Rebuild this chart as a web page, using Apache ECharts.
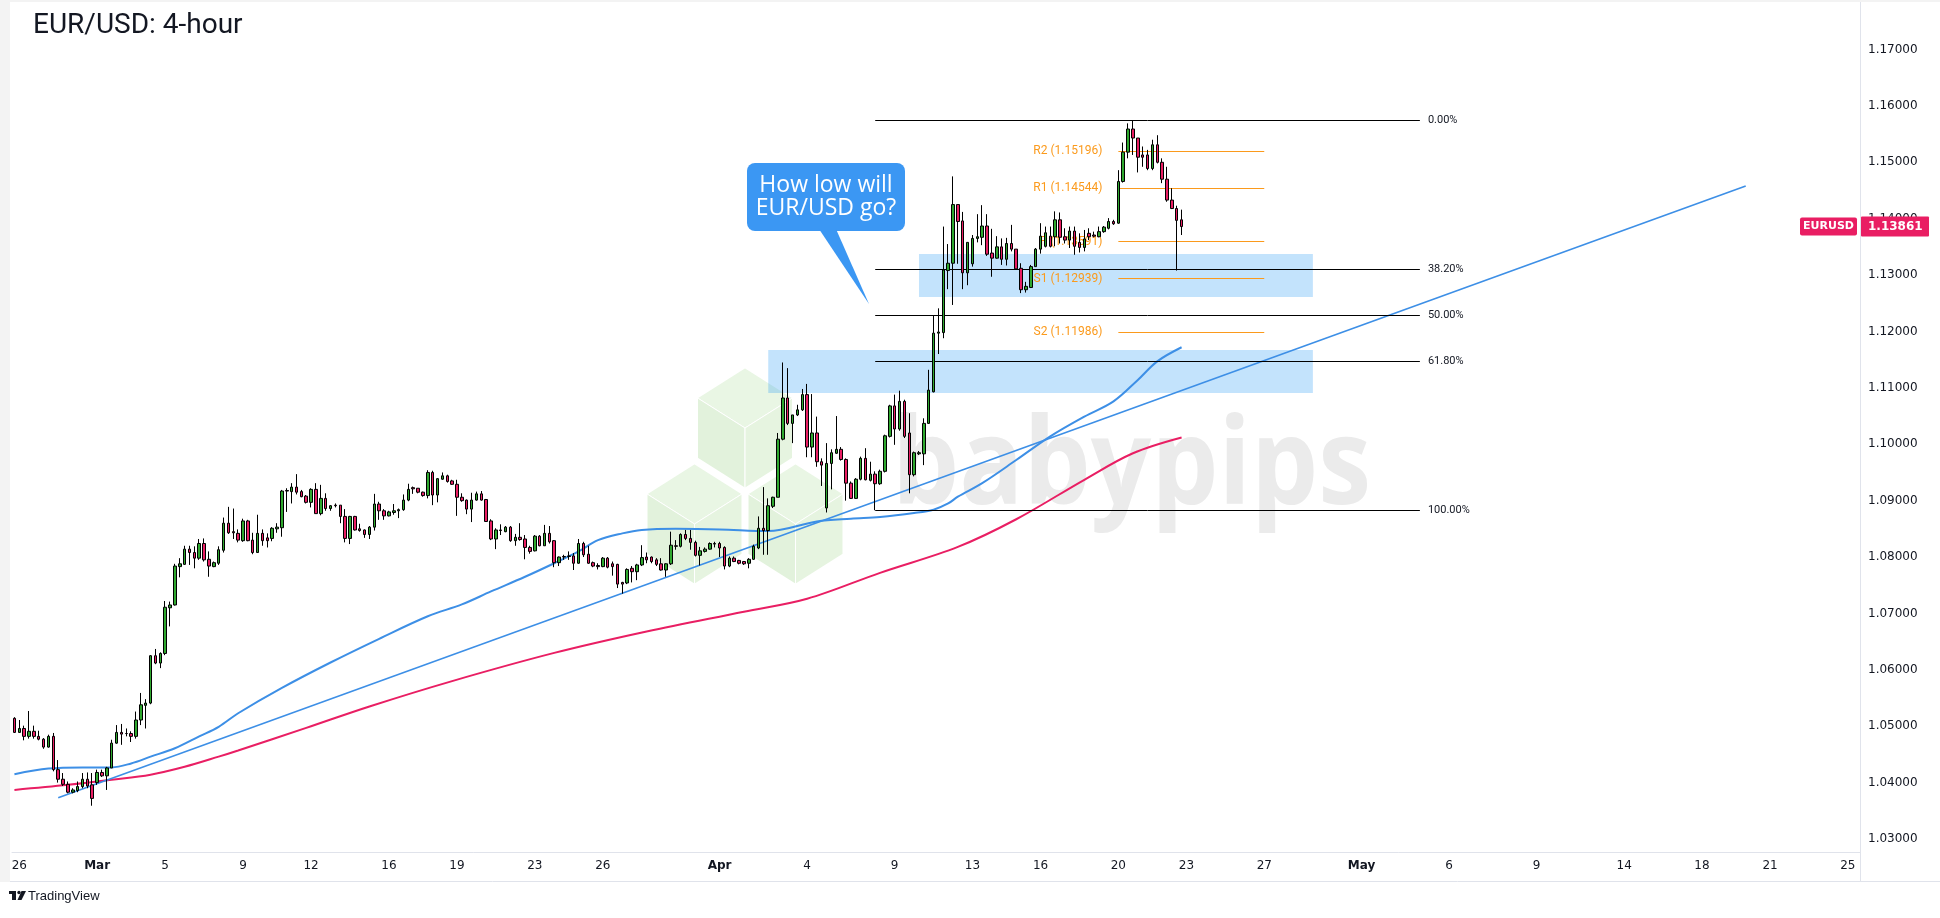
<!DOCTYPE html>
<html><head><meta charset="utf-8">
<script src="https://cdn.jsdelivr.net/npm/echarts@6/dist/echarts.min.js"></script>
<style>html,body{margin:0;padding:0;background:#fff;}#c{width:1940px;height:918px;}</style>
</head><body><div id="c"></div>
<script>
// ---------- DATA ----------
const open = [1.0514,1.0489,1.0496,1.0482,1.0491,1.0482,1.0477,1.0463,1.0482,1.0423,1.0406,1.0397,1.0383,1.0386,1.0393,1.0406,1.0396,1.0400,1.0418,1.0412,
1.0426,1.0470,1.0489,1.0487,1.0487,1.0482,1.0511,1.0537,1.0541,1.0625,1.0612,1.0629,1.0710,1.0715,1.0783,1.0787,1.0814,1.0808,1.0798,1.0824,
1.0796,1.0783,1.0789,1.0812,1.0860,1.0845,1.0842,1.0829,1.0864,1.0830,1.0808,1.0842,1.0834,1.0833,1.0850,1.0852,1.0918,1.0916,1.0924,1.0916,
1.0908,1.0897,1.0920,1.0877,1.0904,1.0886,1.0892,1.0892,1.0872,1.0833,1.0872,1.0850,1.0848,1.0840,1.0853,1.0894,1.0882,1.0873,1.0879,1.0882,
1.0884,1.0901,1.0923,1.0922,1.0915,1.0909,1.0950,1.0910,1.0938,1.0944,1.0935,1.0929,1.0906,1.0901,1.0885,1.0901,1.0912,1.0902,1.0864,1.0832,
1.0848,1.0845,1.0853,1.0829,1.0835,1.0832,1.0817,1.0811,1.0837,1.0820,1.0842,1.0829,1.0790,1.0801,1.0801,1.0802,1.0789,1.0824,1.0805,1.0790,
1.0785,1.0783,1.0798,1.0788,1.0787,1.0755,1.0754,1.0780,1.0774,1.0786,1.0800,1.0800,1.0795,1.0788,1.0777,1.0788,1.0820,1.0819,1.0840,1.0833,
1.0826,1.0803,1.0810,1.0814,1.0824,1.0824,1.0817,1.0784,1.0798,1.0794,1.0792,1.0789,1.0796,1.0816,1.0851,1.0847,1.0890,1.0906,1.1009,1.1082,
1.1037,1.1052,1.1061,1.1088,1.0995,1.1020,1.0969,1.0887,1.0966,1.0984,1.0991,1.0973,1.0931,1.0904,1.0938,1.0975,1.0936,1.0947,1.0930,1.0952,
1.1014,1.1068,1.1027,1.1076,1.1020,1.0946,1.0983,1.0983,1.1037,1.1093,1.1197,1.1198,1.1308,1.1321,1.1425,1.1396,1.1304,1.1320,1.1365,1.1367,
1.1387,1.1339,1.1330,1.1350,1.1328,1.1356,1.1346,1.1312,1.1274,1.1278,1.1315,1.1346,1.1351,1.1369,1.1368,1.1398,1.1368,1.1362,1.1378,1.1358,
1.1349,1.1374,1.1371,1.1368,1.1377,1.1383,1.1395,1.1392,1.1466,1.1518,1.1559,1.1543,1.1513,1.1513,1.1489,1.1531,1.1500,1.1470,1.1433,1.1418,
1.1398];
const high = [1.0516,1.0511,1.0501,1.0527,1.0501,1.0492,1.0479,1.0485,1.0488,1.0440,1.0417,1.0402,1.0390,1.0402,1.0417,1.0418,1.0417,1.0423,1.0423,1.0428,
1.0476,1.0502,1.0504,1.0496,1.0491,1.0526,1.0559,1.0548,1.0626,1.0637,1.0631,1.0722,1.0721,1.0788,1.0798,1.0820,1.0820,1.0819,1.0832,1.0833,
1.0810,1.0792,1.0819,1.0870,1.0889,1.0886,1.0849,1.0868,1.0866,1.0843,1.0875,1.0849,1.0842,1.0853,1.0860,1.0919,1.0922,1.0931,1.0947,1.0919,
1.0910,1.0922,1.0931,1.0928,1.0913,1.0892,1.0895,1.0892,1.0885,1.0873,1.0873,1.0859,1.0849,1.0855,1.0912,1.0898,1.0885,1.0882,1.0894,1.0886,
1.0911,1.0930,1.0925,1.0922,1.0916,1.0954,1.0953,1.0940,1.0950,1.0946,1.0937,1.0937,1.0913,1.0902,1.0914,1.0916,1.0917,1.0903,1.0867,1.0851,
1.0858,1.0855,1.0855,1.0841,1.0860,1.0839,1.0820,1.0839,1.0839,1.0857,1.0855,1.0830,1.0801,1.0804,1.0810,1.0807,1.0832,1.0827,1.0820,1.0792,
1.0789,1.0800,1.0800,1.0792,1.0788,1.0756,1.0780,1.0784,1.0788,1.0821,1.0808,1.0801,1.0798,1.0798,1.0789,1.0845,1.0830,1.0842,1.0848,1.0848,
1.0829,1.0818,1.0817,1.0826,1.0827,1.0827,1.0819,1.0801,1.0801,1.0795,1.0793,1.0798,1.0822,1.0872,1.0924,1.0904,1.0907,1.1020,1.1145,1.1135,
1.1052,1.1070,1.1098,1.1107,1.1089,1.1049,1.0975,1.1002,1.0991,1.1050,1.0995,1.0975,1.0934,1.0940,1.0978,1.0993,1.0969,1.0952,1.0955,1.1017,
1.1070,1.1088,1.1095,1.1079,1.1055,1.0987,1.0988,1.1046,1.1132,1.1229,1.1241,1.1386,1.1355,1.1475,1.1425,1.1412,1.1358,1.1371,1.1408,1.1424,
1.1408,1.1382,1.1369,1.1365,1.1366,1.1389,1.1346,1.1321,1.1288,1.1318,1.1348,1.1392,1.1386,1.1386,1.1413,1.1411,1.1383,1.1386,1.1386,1.1374,
1.1380,1.1383,1.1377,1.1386,1.1387,1.1401,1.1398,1.1486,1.1535,1.1569,1.1574,1.1543,1.1528,1.1522,1.1540,1.1548,1.1507,1.1492,1.1454,1.1423,
1.1416];
const low = [1.0488,1.0488,1.0475,1.0478,1.0478,1.0475,1.0460,1.0462,1.0420,1.0400,1.0394,1.0381,1.0381,1.0383,1.0390,1.0390,1.0359,1.0396,1.0410,1.0387,
1.0426,1.0469,1.0467,1.0482,1.0472,1.0478,1.0502,1.0496,1.0539,1.0610,1.0603,1.0626,1.0677,1.0714,1.0764,1.0786,1.0786,1.0780,1.0795,1.0792,
1.0765,1.0782,1.0786,1.0808,1.0841,1.0832,1.0826,1.0827,1.0828,1.0805,1.0808,1.0820,1.0817,1.0828,1.0843,1.0836,1.0880,1.0895,1.0911,1.0906,
1.0895,1.0888,1.0877,1.0874,1.0882,1.0882,1.0888,1.0860,1.0826,1.0823,1.0847,1.0845,1.0834,1.0832,1.0847,1.0866,1.0866,1.0872,1.0875,1.0869,
1.0882,1.0899,1.0912,1.0913,1.0907,1.0904,1.0892,1.0897,1.0937,1.0932,1.0928,1.0873,1.0898,1.0876,1.0862,1.0900,1.0900,1.0863,1.0830,1.0814,
1.0839,1.0844,1.0827,1.0820,1.0829,1.0796,1.0806,1.0810,1.0819,1.0820,1.0824,1.0782,1.0784,1.0795,1.0795,1.0777,1.0788,1.0800,1.0788,1.0782,
1.0778,1.0782,1.0780,1.0767,1.0745,1.0735,1.0752,1.0755,1.0759,1.0784,1.0789,1.0789,1.0784,1.0776,1.0765,1.0786,1.0813,1.0817,1.0830,1.0813,
1.0801,1.0785,1.0808,1.0813,1.0817,1.0800,1.0778,1.0782,1.0791,1.0787,1.0786,1.0780,1.0795,1.0814,1.0804,1.0804,1.0887,1.0906,1.1007,1.1034,
1.1002,1.1050,1.1059,1.0977,1.0977,1.0960,1.0926,1.0879,1.0920,1.0983,1.0971,1.0900,1.0903,1.0903,1.0936,1.0936,1.0934,1.0883,1.0928,1.0950,
1.1012,1.0999,1.1024,1.1011,1.0913,1.0943,1.0981,1.0963,1.1036,1.1092,1.1160,1.1188,1.1275,1.1247,1.1320,1.1275,1.1282,1.1315,1.1358,1.1353,
1.1334,1.1297,1.1329,1.1318,1.1317,1.1342,1.1309,1.1268,1.1269,1.1277,1.1315,1.1338,1.1349,1.1349,1.1351,1.1356,1.1356,1.1348,1.1336,1.1340,
1.1342,1.1362,1.1367,1.1367,1.1375,1.1381,1.1389,1.1391,1.1464,1.1507,1.1513,1.1482,1.1492,1.1486,1.1486,1.1498,1.1463,1.1430,1.1417,1.1308,
1.1371];
const close = [1.0489,1.0496,1.0482,1.0491,1.0482,1.0477,1.0463,1.0482,1.0423,1.0406,1.0397,1.0383,1.0387,1.0393,1.0406,1.0394,1.0372,1.0418,1.0412,1.0426,
1.0470,1.0489,1.0486,1.0487,1.0482,1.0511,1.0538,1.0541,1.0625,1.0612,1.0629,1.0711,1.0715,1.0784,1.0788,1.0814,1.0808,1.0798,1.0824,1.0795,
1.0784,1.0790,1.0813,1.0860,1.0843,1.0843,1.0830,1.0864,1.0829,1.0808,1.0842,1.0829,1.0829,1.0851,1.0853,1.0917,1.0917,1.0924,1.0915,1.0907,
1.0897,1.0920,1.0877,1.0904,1.0886,1.0891,1.0891,1.0872,1.0833,1.0872,1.0848,1.0847,1.0840,1.0853,1.0894,1.0882,1.0873,1.0880,1.0882,1.0884,
1.0901,1.0920,1.0921,1.0915,1.0909,1.0950,1.0910,1.0939,1.0944,1.0934,1.0929,1.0906,1.0900,1.0885,1.0901,1.0912,1.0901,1.0863,1.0832,1.0848,
1.0847,1.0853,1.0829,1.0835,1.0831,1.0817,1.0810,1.0837,1.0820,1.0842,1.0827,1.0790,1.0800,1.0800,1.0802,1.0789,1.0824,1.0804,1.0789,1.0784,
1.0783,1.0798,1.0782,1.0783,1.0752,1.0752,1.0778,1.0774,1.0786,1.0799,1.0795,1.0792,1.0787,1.0777,1.0788,1.0821,1.0819,1.0840,1.0833,1.0826,
1.0803,1.0811,1.0814,1.0824,1.0823,1.0816,1.0784,1.0798,1.0792,1.0789,1.0788,1.0796,1.0819,1.0851,1.0847,1.0891,1.0906,1.1009,1.1082,1.1037,
1.1052,1.1061,1.1088,1.0995,1.1020,1.0969,1.0963,1.0966,1.0985,1.0991,1.0973,1.0931,1.0904,1.0938,1.0975,1.0937,1.0947,1.0930,1.0952,1.1015,
1.1068,1.1027,1.1076,1.1014,1.0946,1.0985,1.0985,1.1037,1.1096,1.1197,1.1199,1.1309,1.1321,1.1425,1.1395,1.1304,1.1358,1.1365,1.1368,1.1387,
1.1337,1.1330,1.1350,1.1328,1.1356,1.1346,1.1311,1.1274,1.1280,1.1315,1.1346,1.1369,1.1375,1.1351,1.1398,1.1367,1.1362,1.1378,1.1351,1.1349,
1.1364,1.1368,1.1369,1.1377,1.1385,1.1395,1.1391,1.1466,1.1518,1.1559,1.1543,1.1509,1.1509,1.1489,1.1531,1.1500,1.1470,1.1433,1.1418,1.1397,
1.1386];

// moving averages (bar index, value)
const blueMaIdx = [0,7,14,20,24,28,33,38,42,46,55,65,75,85,92,98,105,111,116,120,125,129,136,145,155,165,172,178,185,189,192,194,199,206,213,220,226,231,235,240];
const blueMaVal = [1.0415,1.0425,1.0427,1.0427,1.0434,1.0446,1.0461,1.0482,1.0499,1.0523,1.0568,1.0613,1.0655,1.0695,1.0716,1.0739,1.0765,1.0789,1.0810,1.0830,1.0842,1.0848,1.0850,1.0849,1.0846,1.0863,1.0868,1.0871,1.0878,1.0884,1.0895,1.0907,1.0931,1.0972,1.1014,1.1049,1.1076,1.1114,1.1147,1.1172];
const pinkMaIdx = [0,11,20,28,35,42,46,60,73,90,111,130,150,163,178,194,206,220,230,240];
const pinkMaVal = [1.0387,1.0396,1.0405,1.0414,1.0428,1.0446,1.0457,1.0497,1.0535,1.0580,1.0630,1.0668,1.0703,1.0726,1.0772,1.0818,1.0867,1.0937,1.0984,1.1012];
const trendIdx = [9, 356];
const trendVal = [1.0373, 1.1458];

const fibHigh = 1.1575, fibLow = 1.0883;
const fibLevels = [0, 0.382, 0.5, 0.618, 1];
const fibTexts = ['0.00%','38.20%','50.00%','61.80%','100.00%'];
const fibStartIdx = 177, fibEndIdx = 289;

const pivotNames = ['R2','R1','P','S1','S2'];
const pivotVals = [1.15196,1.14544,1.13591,1.12939,1.11986];
const pivotStartIdx = 227, pivotEndIdx = 257;

const boxTop = [1.13374, 1.11672];
const boxBottom = [1.12612, 1.10910];
const boxStartIdx = [186, 155];
const boxEndIdx = [267, 267];

const lastPrice = 1.13861;
const yTicks = [1.03,1.04,1.05,1.06,1.07,1.08,1.09,1.10,1.11,1.12,1.13,1.14,1.15,1.16,1.17];
const tickDays = ['2025-02-26','2025-03-02','2025-03-05','2025-03-09','2025-03-12','2025-03-16','2025-03-19','2025-03-23','2025-03-26','2025-04-01','2025-04-04','2025-04-09','2025-04-13','2025-04-16','2025-04-20','2025-04-23','2025-04-27','2025-05-01','2025-05-06','2025-05-09','2025-05-14','2025-05-18','2025-05-21','2025-05-25'];
const tickTexts = ['26','Mar','5','9','12','16','19','23','26','Apr','4','9','13','16','20','23','27','May','6','9','14','18','21','25'];

// ---------- 4-hour bar calendar (New York session) ----------
const barHours = {0:[17,21],1:[1,5,9,13,17,21],2:[1,5,9,13,17,21],3:[1,5,9,13,17,21],4:[1,5,9,13,17,21],5:[1,5,9,13],6:[]};
const NBARS = 380;
const cats = [], firstOfDay = {};
for (let d = 0; cats.length < NBARS; d++) {
  const t = new Date(Date.UTC(2025,1,25) + d*86400000);
  const ds = t.toISOString().slice(0,10);
  let hrs = barHours[t.getUTCDay()];
  if (d === 0) hrs = [21];
  hrs.forEach((h,k) => { if (cats.length >= NBARS) return; if (k === 0) firstOfDay[cats.length] = ds; cats.push(ds + ' ' + String(h).padStart(2,'0') + ':00'); });
}
const tickMap = {}; tickDays.forEach((d,i) => tickMap[d] = tickTexts[i]);
const months = ['Mar','Apr','May'];

const candles = close.map((c,i) => [open[i], c, low[i], high[i]]);
const blueMa = blueMaIdx.map((x,i) => [x, blueMaVal[i]]);
const pinkMa = pinkMaIdx.map((x,i) => [x, pinkMaVal[i]]);
const trend = trendIdx.map((x,i) => [x, trendVal[i]]);

const AX = '#131722', BORDER = '#e0e3eb';
const UP = '#2fa82f', DOWN = '#e91e63', BLUE = '#3d8fe6', ORANGE = '#fb9a1c';

const chart = echarts.init(document.getElementById('c'), null, {renderer:'canvas'});
const option = {
  animation: false,
  backgroundColor: '#ffffff',
  grid: {left: 12, right: 80, top: 0, bottom: 66},
  xAxis: {
    type: 'category', data: cats, boundaryGap: true,
    axisLine: {show: true, lineStyle: {color: BORDER, width: 1}},
    axisTick: {show: false}, splitLine: {show: false},
    axisLabel: {
      color: AX, fontSize: 12, fontFamily: 'DejaVu Sans', margin: 8,
      interval: (idx) => firstOfDay[idx] !== undefined && tickMap[firstOfDay[idx]] !== undefined,
      formatter: (val) => { const t = tickMap[val.slice(0,10)]; return months.includes(t) ? '{b|' + t + '}' : t; },
      rich: {b: {fontWeight: 'bold', fontSize: 12, fontFamily: 'DejaVu Sans', color: AX}}
    }
  },
  yAxis: {
    type: 'value', position: 'right', min: 1.027695, max: 1.178777, scale: true,
    axisLine: {show: true, lineStyle: {color: BORDER}},
    axisTick: {show: false}, splitLine: {show: false},
    axisLabel: {customValues: yTicks, formatter: v => v.toFixed(5), color: AX, fontSize: 12, fontFamily: 'DejaVu Sans', margin: 8}
  },
  series: [
    { name: 'pivots', type: 'line', data: [], z: 1, silent: true,
      markLine: { silent: true, symbol: ['none','none'], animation: false,
        lineStyle: {color: ORANGE, width: 1, type: 'solid'},
        label: {show: true, position: 'start', distance: 16, color: ORANGE, fontSize: 12, fontFamily: 'Roboto'},
        data: pivotVals.map((v,i) => [{coord: [pivotStartIdx, v], label: {formatter: pivotNames[i] + ' (' + v.toFixed(5) + ')'}}, {coord: [pivotEndIdx, v]}])
      }
    },
    { name: 'zones', type: 'line', data: [], z: 2, silent: true,
      markArea: { silent: true, itemStyle: {color: 'rgba(33,150,243,0.27)'},
        data: boxTop.map((t,i) => [{coord: [boxStartIdx[i], t]}, {coord: [boxEndIdx[i], boxBottom[i]]}])
      }
    },
    { name: 'fib', type: 'line', data: [], z: 3, silent: true,
      markLine: { silent: true, symbol: ['none','none'], animation: false,
        lineStyle: {color: '#000000', width: 1, type: 'solid'},
        label: {show: true, position: 'end', distance: 8, color: AX, fontSize: 11, fontFamily: 'Roboto'},
        data: fibLevels.map((l,i) => { const v = fibHigh - l*(fibHigh - fibLow); return [{coord: [fibStartIdx, v], label: {formatter: fibTexts[i]}}, {coord: [fibEndIdx, v]}]; })
      }
    },
    { name: 'MA200', type: 'line', data: pinkMa, z: 3, smooth: 0.35, symbol: 'none', lineStyle: {color: DOWN, width: 2} },
    { name: 'MA100', type: 'line', data: blueMa, z: 3, smooth: 0.35, symbol: 'none', lineStyle: {color: BLUE, width: 2} },
    { name: 'trend', type: 'line', data: trend, z: 3, symbol: 'none', lineStyle: {color: BLUE, width: 1.6} },
    { name: 'EURUSD', type: 'candlestick', data: candles, z: 5, barWidth: 3,
      itemStyle: {color: UP, color0: DOWN, borderColor: '#000', borderColor0: '#000', borderWidth: 1} }
  ]
};
chart.setOption(option);

// ---------- annotations ----------
const py = chart.convertToPixel({yAxisIndex: 0}, lastPrice);
function hex(cx, cy, w, r) {
  const T=[cx,cy-r], UR=[cx+w,cy-r/2], LR=[cx+w,cy+r/2], B=[cx,cy+r], LL=[cx-w,cy+r/2], UL=[cx-w,cy-r/2], C=[cx,cy];
  return [
    {type:'polygon', z:0, silent:true, shape:{points:[T,UR,C,UL]}, style:{fill:'#e9f6e4', stroke:'#fff', lineWidth:1}},
    {type:'polygon', z:0, silent:true, shape:{points:[UL,C,B,LL]}, style:{fill:'#e2f2dc', stroke:'#fff', lineWidth:1}},
    {type:'polygon', z:0, silent:true, shape:{points:[C,UR,LR,B]}, style:{fill:'#e6f4e0', stroke:'#fff', lineWidth:1}},
    {type:'polygon', z:0, silent:true, shape:{points:[T,UR,LR,B,LL,UL]}, style:{fill:'none', stroke:'#fff', lineWidth:4}}
  ];
}
const HR = 62, HW = 49, cx0 = 745, cy0 = 428;
const ctx = document.createElement('canvas').getContext('2d');
ctx.font = 'bold 120px "Open Sans"';
const wmScale = 479 / ctx.measureText('babypips').width;

const graphics = [].concat(
  hex(cx0, cy0, HW, HR), hex(cx0 - HW - 1.5, cy0 + 1.5*HR + 3, HW, HR), hex(cx0 + HW + 1.5, cy0 + 1.5*HR + 3, HW, HR),
  [
  {type:'text', z:0, silent:true, x: 892, y: 470, scaleX: wmScale,
   style:{text:'babypips', font:'bold 120px "Open Sans"', fill:'#ebebeb', verticalAlign:'middle', align:'left'}},
  // frame
  {type:'rect', z:50, silent:true, shape:{x:0,y:0,width:10,height:882}, style:{fill:'#f3f3f3'}},
  {type:'rect', z:50, silent:true, shape:{x:0,y:0,width:1940,height:2}, style:{fill:'#f3f3f3'}},
  {type:'line', z:50, silent:true, shape:{x1:10,y1:881.5,x2:1940,y2:881.5}, style:{stroke:BORDER, lineWidth:1}},
  {type:'line', z:50, silent:true, shape:{x1:1860.5,y1:852,x2:1860.5,y2:882}, style:{stroke:BORDER, lineWidth:1}},
  // title
  {type:'text', z:60, silent:true, x: 33, y: 26, style:{text:'EUR/USD: 4-hour', font:'28px Roboto', fill:'#131722', verticalAlign:'middle'}},
  // callout
  {type:'rect', z:60, silent:true, shape:{x:747, y:163, width:158, height:68, r:8}, style:{fill:'#3b97f3'}},
  {type:'polygon', z:60, silent:true, shape:{points:[[819,229],[836,229],[869,304]]}, style:{fill:'#3b97f3'}},
  {type:'text', z:61, silent:true, x: 826, y: 185, style:{text:'How low will', font:'23px "Open Sans"', fill:'#ffffff', align:'center', verticalAlign:'middle'}},
  {type:'text', z:61, silent:true, x: 826, y: 208, style:{text:'EUR/USD go?', font:'23px "Open Sans"', fill:'#ffffff', align:'center', verticalAlign:'middle'}},
  // last price tags
  {type:'rect', z:60, silent:true, shape:{x:1800, y:py-9, width:57, height:18, r:2}, style:{fill:DOWN}},
  {type:'text', z:61, silent:true, x: 1828.5, y: py, style:{text:'EURUSD', font:'bold 11px "DejaVu Sans"', fill:'#fff', align:'center', verticalAlign:'middle'}},
  {type:'rect', z:60, silent:true, shape:{x:1861, y:py-10, width:68, height:20, r:1}, style:{fill:DOWN}},
  {type:'text', z:61, silent:true, x: 1868, y: py, style:{text:lastPrice.toFixed(5), font:'bold 12px "DejaVu Sans"', fill:'#fff', align:'left', verticalAlign:'middle'}},
  // TradingView logo
  {type:'rect', z:60, silent:true, shape:{x:9, y:891, width:7, height:3}, style:{fill:'#131722'}},
  {type:'rect', z:60, silent:true, shape:{x:12, y:891, width:4, height:9}, style:{fill:'#131722'}},
  {type:'circle', z:60, silent:true, shape:{cx:19, cy:892.5, r:1.7}, style:{fill:'#131722'}},
  {type:'polygon', z:60, silent:true, shape:{points:[[21.5,891],[26,891],[21.5,900],[17.5,900]]}, style:{fill:'#131722'}},
  {type:'text', z:60, silent:true, x: 28, y: 896, style:{text:'TradingView', font:'13px "Liberation Sans"', fill:'#131722', verticalAlign:'middle'}}
  ]
);
chart.setOption({graphic: graphics});
</script>
</body></html>
